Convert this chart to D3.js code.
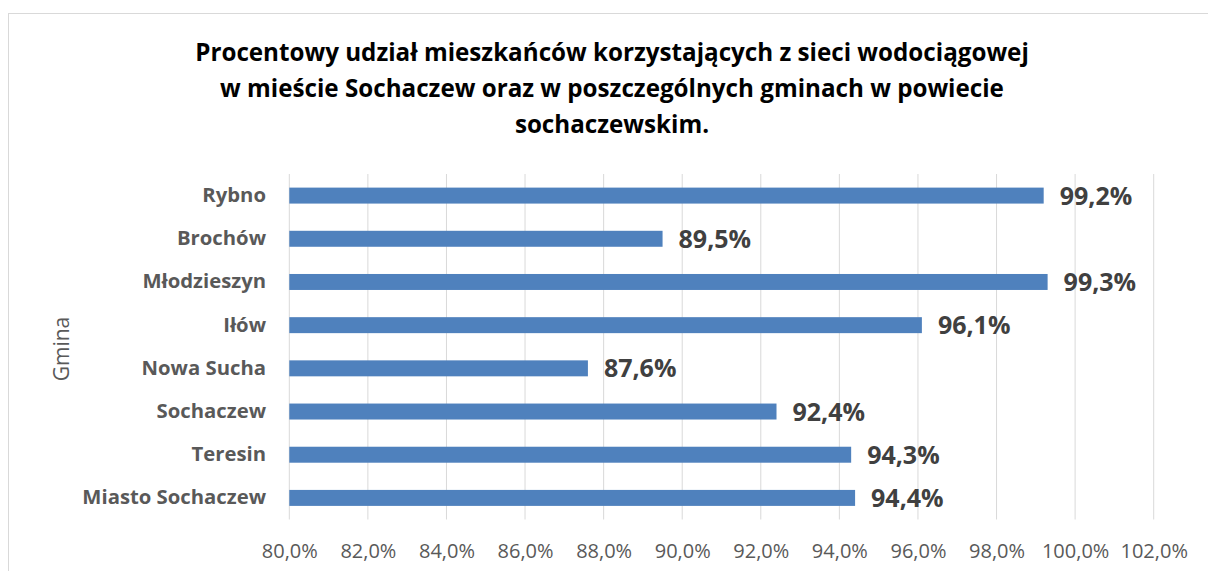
<!DOCTYPE html>
<html>
<head>
<meta charset="utf-8">
<script src="https://cdn.jsdelivr.net/npm/d3@7"></script>
<style>
  body { margin: 0; background: #fff; }
  svg { display: block; font-family: "Open Sans", "Liberation Sans", sans-serif; }
</style>
</head>
<body>
<div id="area"></div>
<script>
var gminy = ['Rybno', 'Brochów', 'Młodzieszyn', 'Iłów', 'Nowa Sucha', 'Sochaczew', 'Teresin', 'Miasto Sochaczew'];
var udzial = [99.2, 89.5, 99.3, 96.1, 87.6, 92.4, 94.3, 94.4];
var ticks = [80, 82, 84, 86, 88, 90, 92, 94, 96, 98, 100, 102];
var titleLines = [
  'Procentowy udział mieszkańców korzystających z sieci wodociągowej',
  'w mieście Sochaczew oraz w poszczególnych gminach w powiecie',
  'sochaczewskim.'
];

var width = 1208, height = 571;
var bar_color = '#4F81BD',
    grid_color = '#D9D9D9',
    label_color = '#595959',
    value_color = '#404040';

var svg = d3.select('#area').append('svg')
    .attr('width', width)
    .attr('height', height);

// chart frame
svg.append('rect')
    .attr('x', 8.5).attr('y', 13.5)
    .attr('width', width).attr('height', height)
    .attr('fill', 'none')
    .attr('stroke', '#D9D9D9');

var x = d3.scaleLinear().domain([80, 102]).range([289.3, 1153.7]);
var y = d3.scaleBand().domain(gminy).range([174, 519.5])
    .paddingInner(0.63).paddingOuter(0.315);

// title
svg.append('g').selectAll('text')
    .data(titleLines)
  .enter().append('text')
    .attr('x', 612)
    .attr('y', function(d, i) { return 61 + i * 36; })
    .attr('text-anchor', 'middle')
    .attr('font-size', 24.2)
    .attr('font-weight', 'bold')
    .attr('fill', '#000')
    .text(function(d) { return d; });

// gridlines
svg.append('g').selectAll('line')
    .data(ticks)
  .enter().append('line')
    .attr('x1', function(d) { return x(d); })
    .attr('x2', function(d) { return x(d); })
    .attr('y1', 174).attr('y2', 519.5)
    .attr('stroke', grid_color)
    .attr('stroke-width', 1);

// x axis labels
var xAxis = d3.axisBottom(x)
    .tickValues(ticks)
    .tickSize(0)
    .tickPadding(0)
    .tickFormat(function(d) { return d.toFixed(1).replace('.', ',') + '%'; });
var gx = svg.append('g')
    .attr('transform', 'translate(0,' + 544 + ')')
    .call(xAxis);
gx.select('.domain').remove();
gx.selectAll('text')
    .attr('font-family', '"Open Sans", sans-serif')
    .attr('font-size', 20)
    .attr('fill', label_color);

// y axis labels
var yAxis = d3.axisLeft(y).tickSize(0).tickPadding(0);
var gy = svg.append('g')
    .attr('transform', 'translate(' + 266 + ',0)')
    .call(yAxis);
gy.select('.domain').remove();
gy.selectAll('text')
    .attr('font-family', '"Open Sans", sans-serif')
    .attr('font-size', 20.3)
    .attr('font-weight', 'bold')
    .attr('fill', label_color);

// axis title
svg.append('text')
    .attr('transform', 'translate(69,349) rotate(-90)')
    .attr('text-anchor', 'middle')
    .attr('font-size', 21)
    .attr('fill', label_color)
    .text('Gmina');

// bars
var bars = svg.append('g').selectAll('g')
    .data(gminy)
  .enter().append('g');

bars.append('rect')
    .attr('x', x(80))
    .attr('y', function(d) { return y(d); })
    .attr('width', function(d, i) { return x(udzial[i]) - x(80); })
    .attr('height', y.bandwidth())
    .attr('fill', bar_color);

bars.append('text')
    .attr('x', function(d, i) { return x(udzial[i]) + 16; })
    .attr('y', function(d) { return y(d) + y.bandwidth() / 2; })
    .attr('dy', '0.36em')
    .attr('font-size', 25)
    .attr('font-weight', 'bold')
    .attr('fill', value_color)
    .text(function(d, i) { return udzial[i].toFixed(1).replace('.', ',') + '%'; });
</script>
</body>
</html>
